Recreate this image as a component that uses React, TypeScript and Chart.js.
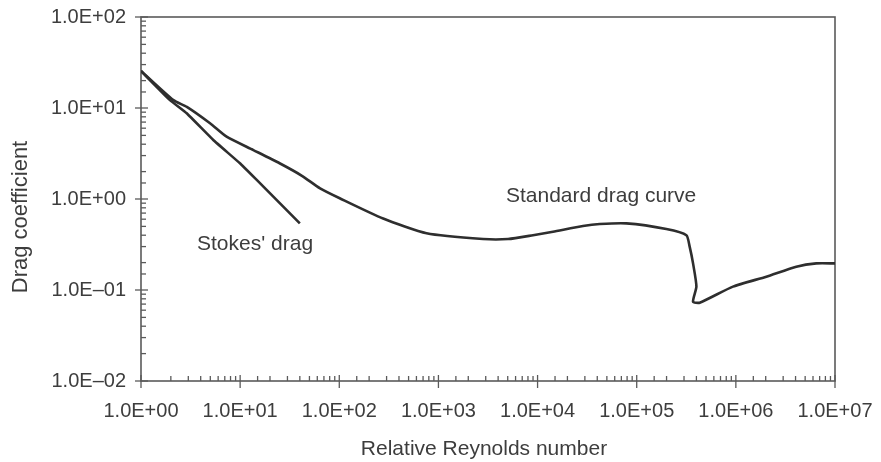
import React, { useEffect, useRef } from 'react';
import { Chart, registerables } from 'chart.js';

Chart.register(...registerables);

// Standard drag curve (Relative Reynolds number vs drag coefficient)
const standardRe = [1, 2.12, 2.9, 4.97, 7.3, 13.6, 25, 42, 64, 101, 277, 759, 2820, 5040, 9000, 14300, 28700, 42400, 78700, 199000, 317000, 342000, 370000, 400000, 370000, 432000, 935000, 2030000, 4070000, 6470000, 10000000];
const standardCd = [25.5, 12.2, 10.3, 6.8, 4.84, 3.45, 2.47, 1.8, 1.31, 1.02, 0.61, 0.42, 0.363, 0.363, 0.4, 0.437, 0.505, 0.531, 0.54, 0.468, 0.4, 0.3, 0.196, 0.109, 0.0743, 0.0725, 0.109, 0.14, 0.18, 0.196, 0.196];

// Stokes' drag
const stokesRe = [1, 1.96, 2.89, 5.36, 9.95, 14.7, 18.5, 40];
const stokesCd = [25.5, 12.2, 8.75, 4.45, 2.47, 1.62, 1.26, 0.54];

const xTickValues = [1, 10, 100, 1e3, 1e4, 1e5, 1e6, 1e7];
const xTickLabels = ['1.0E+00', '1.0E+01', '1.0E+02', '1.0E+03', '1.0E+04', '1.0E+05', '1.0E+06', '1.0E+07'];
const yTickValues = [0.01, 0.1, 1, 10, 100];
const yTickLabels = ['1.0E\u201302', '1.0E\u201301', '1.0E+00', '1.0E+01', '1.0E+02'];

const xTitle = 'Relative Reynolds number';
const yTitle = 'Drag coefficient';
const annotations = [
  { text: 'Standard drag curve', re: 4800, cd: 0.93 },
  { text: "Stokes' drag", re: 3.67, cd: 0.275 },
];

const FONT = "'Liberation Sans', Arial, Helvetica, sans-serif";
const TEXT = '#3d3d3d';
const AXIS = '#5a5a5a';
const LINE = '#2e2e2e';

const isDecade = (v: number) => Math.abs(Math.log10(v) - Math.round(Math.log10(v))) < 1e-6;
const labelFor = (vals: number[], labels: string[], v: number) => {
  for (let i = 0; i < vals.length; i++) {
    if (Math.abs(Math.log10(vals[i]) - Math.log10(v)) < 1e-6) return labels[i];
  }
  return '';
};

const zeroPad = (s: any) => {
  s.paddingTop = 0;
  s.paddingBottom = 0;
  s.paddingLeft = 0;
  s.paddingRight = 0;
};

const framePlugin = {
  id: 'frameTicks',
  beforeDatasetsDraw(chart: any) {
    const { ctx, chartArea } = chart;
    const { left, right, top, bottom } = chartArea;
    ctx.save();
    ctx.strokeStyle = AXIS;
    ctx.lineWidth = 1.6;
    ctx.strokeRect(left, top, right - left, bottom - top);
    ctx.lineWidth = 1.3;
    const xs = chart.scales.x;
    xs.ticks.forEach((t: any) => {
      const p = xs.getPixelForValue(t.value);
      ctx.beginPath();
      if (isDecade(t.value)) {
        ctx.moveTo(p, bottom - 6);
        ctx.lineTo(p, bottom + 7);
      } else {
        ctx.moveTo(p, bottom - 5);
        ctx.lineTo(p, bottom);
      }
      ctx.stroke();
    });
    const ys = chart.scales.y;
    ys.ticks.forEach((t: any) => {
      const p = ys.getPixelForValue(t.value);
      ctx.beginPath();
      if (isDecade(t.value)) {
        ctx.moveTo(left - 6, p);
        ctx.lineTo(left + 7, p);
      } else {
        ctx.moveTo(left, p);
        ctx.lineTo(left + 5, p);
      }
      ctx.stroke();
    });
    ctx.restore();
  },
  afterDraw(chart: any) {
    const { ctx, chartArea } = chart;
    const xs = chart.scales.x;
    const ys = chart.scales.y;
    ctx.save();
    ctx.fillStyle = TEXT;
    ctx.font = `21px ${FONT}`;
    ctx.textBaseline = 'alphabetic';
    ctx.textAlign = 'left';
    annotations.forEach((a) => {
      ctx.fillText(a.text, xs.getPixelForValue(a.re), ys.getPixelForValue(a.cd));
    });
    ctx.textAlign = 'center';
    ctx.fillText(xTitle, (chartArea.left + chartArea.right) / 2 - 4, 455);
    ctx.font = `22px ${FONT}`;
    ctx.translate(27, 217);
    ctx.rotate(-Math.PI / 2);
    ctx.fillText(yTitle, 0, 0);
    ctx.restore();
  },
};

export default function App() {
  const ref = useRef<HTMLCanvasElement | null>(null);
  useEffect(() => {
    document.body.style.margin = '0';
    if (!ref.current) return;
    const chart = new Chart(ref.current, {
      type: 'scatter',
      data: {
        datasets: [
          {
            label: 'Standard drag curve',
            data: standardRe.map((x, i) => ({ x, y: standardCd[i] })),
            showLine: true,
            borderColor: LINE,
            borderWidth: 2.6,
            pointRadius: 0,
            tension: 0.2,
          },
          {
            label: "Stokes' drag",
            data: stokesRe.map((x, i) => ({ x, y: stokesCd[i] })),
            showLine: true,
            borderColor: LINE,
            borderWidth: 2.6,
            pointRadius: 0,
            tension: 0.1,
          },
        ],
      },
      options: {
        animation: false,
        responsive: true,
        maintainAspectRatio: false,
        layout: { padding: { top: 17, right: 46, left: 0, bottom: 0 } },
        plugins: { legend: { display: false }, tooltip: { enabled: false }, title: { display: false } },
        scales: {
          x: {
            type: 'logarithmic',
            min: 1,
            max: 1e7,
            grid: { display: false, drawTicks: false },
            border: { display: false },
            ticks: {
              autoSkip: false,
              maxRotation: 0,
              padding: 18,
              color: TEXT,
              font: { family: FONT, size: 20 },
              callback: (v: any) => labelFor(xTickValues, xTickLabels, Number(v)),
            },
            afterFit: (s: any) => {
              s.height = 81;
              zeroPad(s);
            },
          },
          y: {
            type: 'logarithmic',
            min: 0.01,
            max: 100,
            grid: { display: false, drawTicks: false },
            border: { display: false },
            ticks: {
              autoSkip: false,
              padding: 15,
              color: TEXT,
              font: { family: FONT, size: 20 },
              callback: (v: any) => labelFor(yTickValues, yTickLabels, Number(v)),
            },
            afterFit: (s: any) => {
              s.width = 141;
              zeroPad(s);
            },
          },
        },
      } as any,
      plugins: [framePlugin],
    });
    return () => chart.destroy();
  }, []);
  return (
    <div style={{ position: 'relative', width: 881, height: 462 }}>
      <canvas ref={ref} />
    </div>
  );
}
